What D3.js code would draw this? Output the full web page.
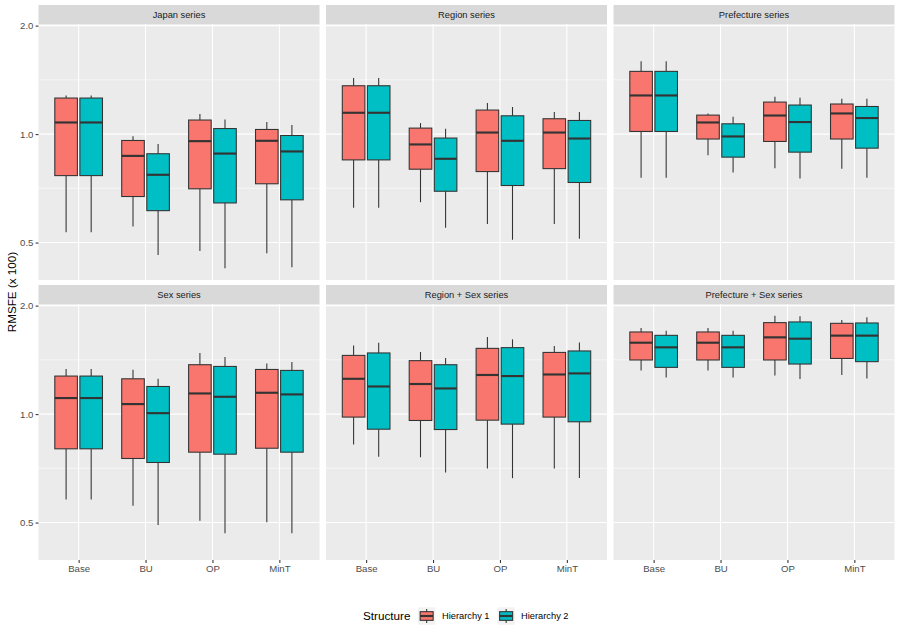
<!DOCTYPE html>
<html>
<head>
<meta charset="utf-8">
<script src="https://cdn.jsdelivr.net/npm/d3@7"></script>
<style>
  body { margin: 0; background: #fff; }
  svg { display: block; font-family: "Liberation Sans", Arial, Helvetica, sans-serif; }
</style>
</head>
<body>
<svg id="chart" width="900" height="637"></svg>
<script>
// ---- data -------------------------------------------------------------
const methods = ['Base', 'BU', 'OP', 'MinT'];
const hierarchies = ['Hierarchy 1', 'Hierarchy 2'];
const fills = ['#F8766D', '#00BFC4'];
const facetTitles = [
  'Japan series', 'Region series', 'Prefecture series',
  'Sex series', 'Region + Sex series', 'Prefecture + Sex series',
];
const yTicks = [0.5, 1.0, 2.0];
const yMinor = [Math.SQRT1_2, Math.SQRT2];

// each row: [lower whisker, Q1, median, Q3, upper whisker] for Base, BU, OP, MinT
const japanH1 = [[0.534, 0.767, 1.077, 1.259, 1.280], [0.554, 0.671, 0.870, 0.960, 0.987], [0.474, 0.705, 0.956, 1.094, 1.137], [0.467, 0.728, 0.958, 1.030, 1.080]];
const japanH2 = [[0.534, 0.767, 1.077, 1.259, 1.280], [0.462, 0.613, 0.771, 0.882, 0.938], [0.424, 0.644, 0.883, 1.036, 1.098], [0.427, 0.657, 0.895, 0.991, 1.059]];
const regionH1 = [[0.625, 0.848, 1.146, 1.362, 1.431], [0.647, 0.799, 0.936, 1.039, 1.073], [0.563, 0.787, 1.010, 1.166, 1.219], [0.563, 0.802, 1.010, 1.103, 1.151]];
const regionH2 = [[0.625, 0.848, 1.146, 1.362, 1.431], [0.550, 0.694, 0.854, 0.975, 1.034], [0.509, 0.720, 0.958, 1.124, 1.189], [0.512, 0.734, 0.972, 1.091, 1.151]];
const prefH1 = [[0.757, 1.017, 1.280, 1.493, 1.592], [0.874, 0.969, 1.077, 1.129, 1.141], [0.804, 0.954, 1.126, 1.227, 1.270], [0.801, 0.969, 1.141, 1.212, 1.253]];
const prefH2 = [[0.757, 1.017, 1.280, 1.493, 1.592], [0.782, 0.863, 0.985, 1.068, 1.117], [0.753, 0.891, 1.080, 1.204, 1.262], [0.757, 0.914, 1.108, 1.193, 1.253]];
const sexH1 = [[0.579, 0.801, 1.108, 1.275, 1.334], [0.557, 0.753, 1.066, 1.253, 1.328], [0.506, 0.784, 1.141, 1.371, 1.478], [0.501, 0.804, 1.146, 1.330, 1.382]];
const sexH2 = [[0.579, 0.801, 1.108, 1.275, 1.334], [0.492, 0.734, 1.006, 1.193, 1.253], [0.467, 0.774, 1.117, 1.356, 1.440], [0.467, 0.784, 1.134, 1.322, 1.395]];
const regSexH1 = [[0.823, 0.981, 1.253, 1.455, 1.551], [0.759, 0.960, 1.212, 1.407, 1.487], [0.706, 0.962, 1.284, 1.522, 1.637], [0.706, 0.981, 1.288, 1.483, 1.545]];
const regSexH2 = [[0.761, 0.908, 1.193, 1.478, 1.578], [0.688, 0.906, 1.178, 1.371, 1.431], [0.664, 0.938, 1.275, 1.529, 1.612], [0.665, 0.952, 1.297, 1.497, 1.581]];
const prefSexH1 = [[1.322, 1.413, 1.578, 1.690, 1.734], [1.322, 1.413, 1.578, 1.690, 1.734], [1.280, 1.413, 1.633, 1.794, 1.876], [1.284, 1.427, 1.651, 1.786, 1.825]];
const prefSexH2 = [[1.264, 1.348, 1.532, 1.654, 1.704], [1.264, 1.348, 1.532, 1.654, 1.704], [1.251, 1.377, 1.619, 1.802, 1.868], [1.256, 1.398, 1.651, 1.790, 1.856]];

const facetData = [
  [japanH1, japanH2], [regionH1, regionH2], [prefH1, prefH2],
  [sexH1, sexH2], [regSexH1, regSexH2], [prefSexH1, prefSexH2],
];

// ---- layout -------------------------------------------------------------
const svg = d3.select('#chart');
const panelW = 281, gapX = 6.5, left0 = 38.5, stripH = 19;
const rows = [
  { strip: 5, top: 24, bottom: 280 },
  { strip: 285, top: 304, bottom: 560 },
];
const LW = 1.07;          // ggplot 0.5mm line
const GREY_TXT = '#4D4D4D';
const TICK_FS = 9.6;

// y domain: data range expanded 5% in log space (like ggplot)
const allVals = facetData.flat(3);
const lo = Math.log10(d3.min(allVals)), hi = Math.log10(d3.max(allVals));
const pad = (hi - lo) * 0.05;
const yDomain = [Math.pow(10, lo - pad), Math.pow(10, hi + pad)];

svg.append('rect').attr('width', 900).attr('height', 637).attr('fill', '#fff');

facetTitles.forEach((title, fi) => {
  const r = rows[Math.floor(fi / 3)];
  const col = fi % 3;
  const px = left0 + col * (panelW + gapX);

  const x = d3.scalePoint().domain(methods).range([px, px + panelW]).padding(0.6);
  const y = d3.scaleLog().domain(yDomain).range([r.bottom, r.top]);
  const step = x.step();
  const boxW = step * 0.375 * 0.9;
  const offs = [-step * 0.1875, step * 0.1875];

  const g = svg.append('g');

  // panel background
  g.append('rect')
    .attr('x', px).attr('y', r.top)
    .attr('width', panelW).attr('height', r.bottom - r.top)
    .attr('fill', '#EBEBEB');

  // grid
  g.selectAll('.minor').data(yMinor).enter().append('line')
    .attr('x1', px).attr('x2', px + panelW)
    .attr('y1', (d) => y(d)).attr('y2', (d) => y(d))
    .attr('stroke', '#fff').attr('stroke-width', LW / 2);
  g.selectAll('.major').data(yTicks).enter().append('line')
    .attr('x1', px).attr('x2', px + panelW)
    .attr('y1', (d) => y(d)).attr('y2', (d) => y(d))
    .attr('stroke', '#fff').attr('stroke-width', LW);
  g.selectAll('.xgrid').data(methods).enter().append('line')
    .attr('x1', (d) => x(d)).attr('x2', (d) => x(d))
    .attr('y1', r.top).attr('y2', r.bottom)
    .attr('stroke', '#fff').attr('stroke-width', LW);

  // strip
  g.append('rect')
    .attr('x', px).attr('y', r.strip)
    .attr('width', panelW).attr('height', stripH)
    .attr('fill', '#D9D9D9');
  g.append('text')
    .attr('x', px + panelW / 2).attr('y', r.strip + stripH / 2 + 3.3)
    .attr('text-anchor', 'middle')
    .attr('font-size', 9.3).attr('fill', '#1A1A1A')
    .text(title);

  // boxes
  facetData[fi].forEach((series, hi) => {
    series.forEach((s, mi) => {
      const cx = x(methods[mi]) + offs[hi];
      const [wl, q1, med, q3, wu] = s;
      g.append('line')
        .attr('x1', cx).attr('x2', cx).attr('y1', y(q3)).attr('y2', y(wu))
        .attr('stroke', '#333333').attr('stroke-width', LW);
      g.append('line')
        .attr('x1', cx).attr('x2', cx).attr('y1', y(q1)).attr('y2', y(wl))
        .attr('stroke', '#333333').attr('stroke-width', LW);
      g.append('rect')
        .attr('x', cx - boxW / 2).attr('y', y(q3))
        .attr('width', boxW).attr('height', y(q1) - y(q3))
        .attr('fill', fills[hi])
        .attr('stroke', '#333333').attr('stroke-width', LW);
      g.append('line')
        .attr('x1', cx - boxW / 2).attr('x2', cx + boxW / 2)
        .attr('y1', y(med)).attr('y2', y(med))
        .attr('stroke', '#333333').attr('stroke-width', LW * 2);
    });
  });

  // axes
  if (col === 0) {
    const ax = g.append('g')
      .attr('transform', `translate(${px},0)`)
      .call(d3.axisLeft(y).tickValues(yTicks).tickFormat(d3.format('.1f')).tickSize(2.9).tickPadding(2.2));
    ax.select('.domain').remove();
    ax.selectAll('.tick line').attr('stroke', '#333333').attr('stroke-width', LW);
    ax.selectAll('.tick text').attr('fill', GREY_TXT).attr('font-size', TICK_FS)
      .attr('font-family', '"Liberation Sans", Arial, sans-serif');
  }
  if (fi >= 3) {
    const ax = g.append('g')
      .attr('transform', `translate(0,${r.bottom})`)
      .call(d3.axisBottom(x).tickSize(2.9).tickPadding(2.2));
    ax.select('.domain').remove();
    ax.selectAll('.tick line').attr('stroke', '#333333').attr('stroke-width', LW);
    ax.selectAll('.tick text').attr('fill', GREY_TXT).attr('font-size', TICK_FS)
      .attr('font-family', '"Liberation Sans", Arial, sans-serif');
  }
});

// y axis title
svg.append('text')
  .attr('transform', `translate(16,${(rows[0].top + rows[1].bottom) / 2}) rotate(-90)`)
  .attr('text-anchor', 'middle')
  .attr('font-size', 11.7).attr('fill', '#000')
  .text('RMSFE (x 100)');

// ---- legend -------------------------------------------------------------
const legY = 616;
const keyS = 17.3;
svg.append('text')
  .attr('x', 363).attr('y', legY + 4.2)
  .attr('font-size', 11.7).attr('fill', '#000')
  .text('Structure');

const keyX = [418, 497.5];
const labX = [442, 521];
hierarchies.forEach((h, i) => {
  const kx = keyX[i], ky = legY - keyS / 2;
  const kg = svg.append('g');
  kg.append('rect').attr('x', kx).attr('y', ky).attr('width', keyS).attr('height', keyS).attr('fill', '#F2F2F2');
  kg.append('line')
    .attr('x1', kx + keyS / 2).attr('x2', kx + keyS / 2)
    .attr('y1', ky + keyS * 0.1).attr('y2', ky + keyS * 0.9)
    .attr('stroke', '#333333').attr('stroke-width', LW);
  kg.append('rect')
    .attr('x', kx + keyS * 0.125).attr('y', ky + keyS * 0.25)
    .attr('width', keyS * 0.75).attr('height', keyS * 0.5)
    .attr('fill', fills[i]).attr('stroke', '#333333').attr('stroke-width', LW);
  kg.append('line')
    .attr('x1', kx + keyS * 0.125).attr('x2', kx + keyS * 0.875)
    .attr('y1', ky + keyS / 2).attr('y2', ky + keyS / 2)
    .attr('stroke', '#333333').attr('stroke-width', LW * 2);
  svg.append('text')
    .attr('x', labX[i]).attr('y', legY + 3.3)
    .attr('font-size', 9.3).attr('fill', '#000')
    .text(h);
});
</script>
</body>
</html>
